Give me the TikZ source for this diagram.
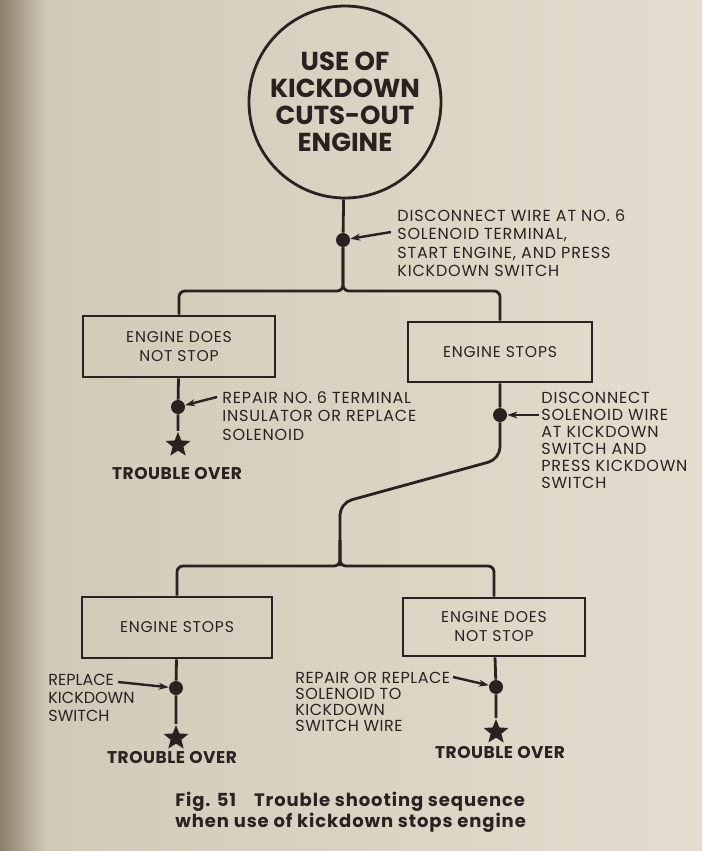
\documentclass[tikz,border=0pt]{standalone}
\usepackage{fontspec}
\setmainfont{Poppins}
\newfontfamily\spaced[LetterSpace=5]{Poppins}
\newfontfamily\tightspaced[LetterSpace=3]{Poppins}
\usepackage{tikz}
\usetikzlibrary{arrows.meta,positioning,shapes.geometric}
\definecolor{ink}{RGB}{42,34,30}
\definecolor{paper}{RGB}{228,221,207}
\definecolor{paperleft}{RGB}{208,200,183}
\definecolor{shadow}{RGB}{140,126,106}
\tikzset{
  topic/.style={draw=ink, circle, line width=1.4pt, minimum size=96pt, inner sep=0pt, align=center, text=ink, font=\fontsize{13}{13.6}\selectfont\bfseries},
  box/.style={draw=ink, line width=1.4pt, align=center, inner sep=0pt, text=ink, font=\spaced\fontsize{7.8}{9.5}\selectfont},
  dot/.style={circle, fill=ink, minimum size=7pt, inner sep=0pt},
  endstar/.style={star, star points=5, star point ratio=2.3, fill=ink, minimum size=13pt, inner sep=0pt},
  note/.style={anchor=north west, align=left, inner sep=0pt, text=ink, font=\spaced\fontsize{8}{9.2}\selectfont},
  over/.style={inner sep=0pt, text=ink, font=\tightspaced\fontsize{8.5}{10}\selectfont\bfseries},
  line/.style={draw=ink, line width=1.4pt, rounded corners=3pt},
  pointer/.style={draw=ink, line width=1.2pt, -{Stealth[length=5pt,width=3.5pt]}}
}
\begin{document}
\begin{tikzpicture}[x=0.5pt, y=-0.5pt]
  \useasboundingbox (0,0) rectangle (702,851);
  \shade[left color=paperleft, right color=paper] (0,0) rectangle (702,851);
  \shade[left color=shadow, right color=paperleft] (0,0) rectangle (46,851);

  \node[topic] (top) at (345,102) {USE OF\\KICKDOWN\\CUTS-OUT\\ENGINE};
  \node[dot] (d1) at (343,240) {};
  \coordinate (f1) at (343,291);
  \node[note] (n1) at (397,209) {DISCONNECT WIRE AT NO. 6\\SOLENOID TERMINAL,\\START ENGINE, AND PRESS\\KICKDOWN SWITCH};
  \coordinate (p1) at (391,232);

  \node[box, minimum width=96pt, minimum height=30.5pt] (nstop1) at (179,346.5) {ENGINE DOES\\NOT STOP};
  \node[box, minimum width=92pt, minimum height=30pt] (stop1) at (500,352) {ENGINE STOPS};

  \node[dot] (d2) at (178,407) {};
  \node[endstar] (s1) at (178,445) {};
  \node[over] (t1) at (177,474) {TROUBLE OVER};
  \node[note] (n2) at (222,391) {REPAIR NO. 6 TERMINAL\\INSULATOR OR REPLACE\\SOLENOID};
  \coordinate (p2) at (217,397);

  \node[dot] (d3) at (500,415) {};
  \node[note, font=\spaced\fontsize{8}{8.5}\selectfont] (n3) at (541,392) {DISCONNECT\\SOLENOID WIRE\\AT KICKDOWN\\SWITCH AND\\PRESS KICKDOWN\\SWITCH};
  \coordinate (p3) at (539,415);
  \coordinate (k1) at (500,459);
  \coordinate (k2) at (340,503);
  \coordinate (f2) at (340,566);
  \coordinate (g2) at (340,540);

  \node[box, minimum width=95pt, minimum height=30.5pt] (stop2) at (177,627.5) {ENGINE STOPS};
  \node[box, minimum width=91pt, minimum height=29pt] (nstop2) at (494,627) {ENGINE DOES\\NOT STOP};

  \node[dot] (d4) at (176,688) {};
  \node[endstar] (s2) at (176,738) {};
  \node[over] (t2) at (172,757) {TROUBLE OVER};
  \node[note, font=\fontsize{8}{9}\selectfont] (n4) at (48,674) {REPLACE\\KICKDOWN\\SWITCH};
  \coordinate (p4) at (118,682);

  \node[dot] (d5) at (496,687) {};
  \node[endstar] (s3) at (496,732) {};
  \node[over] (t3) at (500,752) {TROUBLE OVER};
  \node[note, font=\tightspaced\fontsize{8}{8}\selectfont] (n5) at (295,672) {REPAIR OR REPLACE\\SOLENOID TO\\KICKDOWN\\SWITCH WIRE};
  \coordinate (p5) at (453,677);

  \node[anchor=north west, align=left, inner sep=0pt, text=ink, font=\spaced\fontsize{9}{10.5}\selectfont\bfseries] (caption) at (175,792) {Fig. 51\quad Trouble shooting sequence\\when use of kickdown stops engine};

  \draw[line] (top) -- (d1);
  \draw[line] (d1) -- (f1) -| (nstop1);
  \draw[line] (d1) -- (f1) -| (stop1);
  \draw[line] (nstop1) -- (d2) -- (s1);
  \draw[line, rounded corners=6pt] (stop1) -- (d3) -- (k1) -- (k2) -- (f2);
  \draw[line] (g2) -- (f2) -| (stop2);
  \draw[line] (g2) -- (f2) -| (nstop2);
  \draw[line] (stop2) -- (d4) -- (s2);
  \draw[line] (nstop2) -- (d5) -- (s3);

  \draw[pointer] (p1) -- (d1);
  \draw[pointer] (p2) -- (d2);
  \draw[pointer] (p3) -- (d3);
  \draw[pointer] (p4) -- (d4);
  \draw[pointer] (p5) -- (d5);
\end{tikzpicture}
\end{document}
